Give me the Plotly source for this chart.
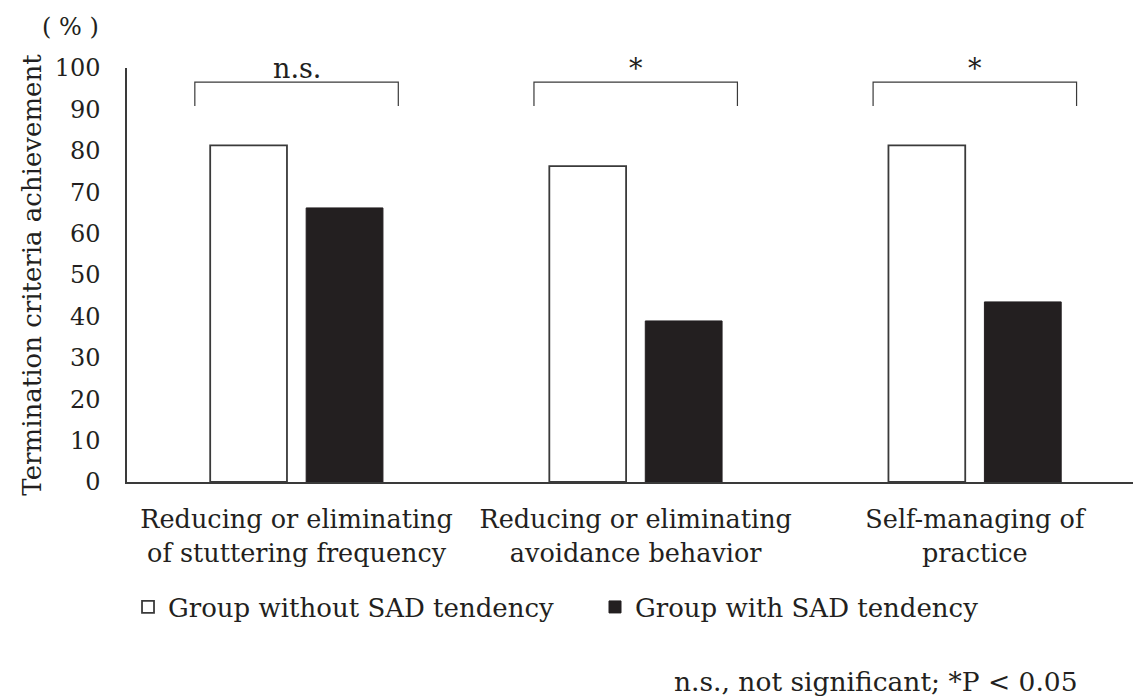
import plotly.graph_objects as go

categories = ["Reducing or eliminating<br>of stuttering frequency",
              "Reducing or eliminating<br>avoidance behavior",
              "Self-managing of<br>practice"]
without_sad = [81.3, 76.3, 81.3]
with_sad = [66.2, 38.9, 43.5]
significance = ["n.s.", "*", "*"]
y_ticks = [0, 10, 20, 30, 40, 50, 60, 70, 80, 90, 100]

FONT = "DejaVu Serif"
INK = "#231f20"
LINE = "#3a3a3a"

fig = go.Figure()
fig.add_trace(go.Bar(x=categories, y=without_sad, name="Group without SAD tendency",
                     marker=dict(color="white", line=dict(color=LINE, width=1.8))))
fig.add_trace(go.Bar(x=categories, y=with_sad, name="Group with SAD tendency",
                     marker=dict(color=INK, line=dict(color=INK, width=1))))

for i, s in enumerate(significance):
    fig.add_shape(type="path",
                  path=f"M {i-0.3},90.8 L {i-0.3},96.6 L {i+0.3},96.6 L {i+0.3},90.8",
                  xref="x", yref="y", line=dict(color=LINE, width=1.2))
    fig.add_annotation(x=i, y=100, xref="x", yref="y", text=s, showarrow=False,
                       yanchor="middle", font=dict(family=FONT, size=27, color=INK))

fig.add_annotation(x=-0.056, y=1.098, xref="paper", yref="paper", text="( % )",
                   showarrow=False, xanchor="center", yanchor="middle",
                   font=dict(family=FONT, size=24, color=INK))
fig.add_annotation(x=0.94, y=-0.481, xref="paper", yref="paper",
                   text="n.s., not significant; *P < 0.05", showarrow=False,
                   xanchor="right", yanchor="middle", font=dict(family=FONT, size=26.5, color=INK))

fig.update_layout(
    width=1133, height=689,
    margin=dict(l=119, r=0, t=60, b=215),
    plot_bgcolor="white", paper_bgcolor="white",
    barmode="group", bargap=0.434, bargroupgap=0.2,
    font=dict(family=FONT, size=25, color=INK),
    showlegend=True,
    legend=dict(orientation="h", x=0.001, xanchor="left", y=-0.302, yanchor="middle",
                font=dict(family=FONT, size=26, color=INK), entrywidth=422,
                itemwidth=30),
    xaxis=dict(range=[-0.5, 2.49], showline=True, linecolor=LINE, linewidth=1.5,
               ticks="", showgrid=False, ticklabelstandoff=14,
               tickfont=dict(family=FONT, size=25.5, color=INK)),
    yaxis=dict(range=[0, 100], tickvals=y_ticks, showline=True, linecolor=LINE,
               linewidth=1.5, ticks="", showgrid=False, zeroline=False,
               ticklabelstandoff=20,
               title=dict(text="Termination criteria achievement", standoff=6,
                          font=dict(family=FONT, size=26, color=INK)),
               tickfont=dict(family=FONT, size=24, color=INK)),
)

fig.write_html("out.html")
